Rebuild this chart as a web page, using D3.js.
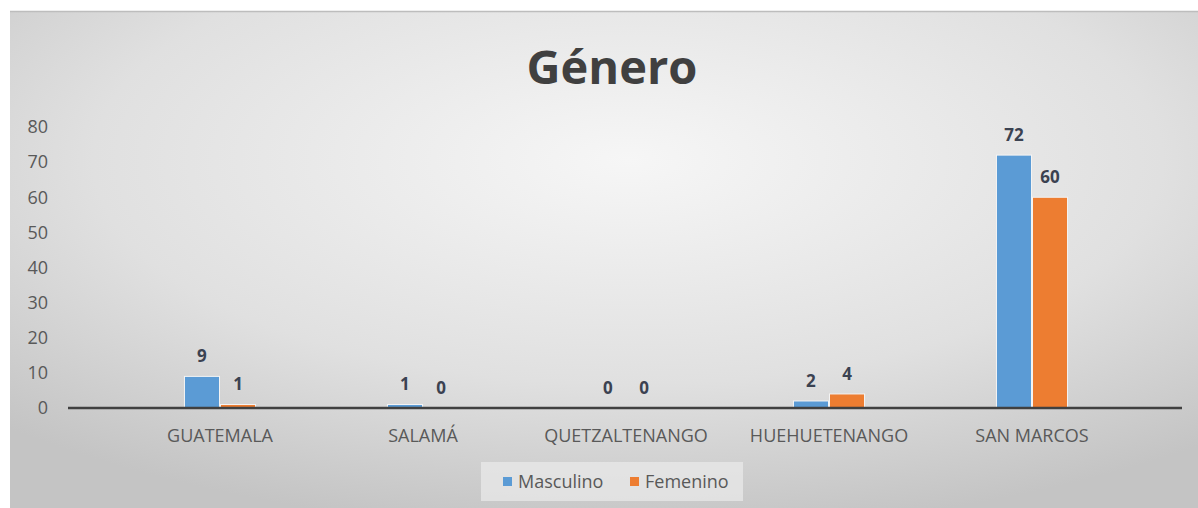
<!DOCTYPE html>
<html>
<head>
<meta charset="utf-8">
<script src="https://cdn.jsdelivr.net/npm/d3@7"></script>
<style>
  html, body { margin: 0; padding: 0; background: #fff; }
  svg { display: block; font-family: "Open Sans", "Noto Sans", sans-serif; }
</style>
</head>
<body>
<div id="chart"></div>
<script>
const categories = ["GUATEMALA", "SALAMÁ", "QUETZALTENANGO", "HUEHUETENANGO", "SAN MARCOS"]
const seriesNames = ["Masculino", "Femenino"]
const masculino = [9, 1, 0, 2, 72]
const femenino = [1, 0, 0, 4, 60]
const yTicks = [0, 10, 20, 30, 40, 50, 60, 70, 80]
const colors = ["#5b9bd5", "#ed7d31"]

const totalWidth = 1198, totalHeight = 508
const svg = d3.select("div#chart").append("svg").attr("width", totalWidth).attr("height", totalHeight)

// fondo con degradado radial
const defs = svg.append("defs")
const grad = defs.append("radialGradient").attr("id", "bg")
  .attr("cx", "52%").attr("cy", "30%").attr("r", "75%")
grad.append("stop").attr("offset", "0%").attr("stop-color", "#f6f6f6")
grad.append("stop").attr("offset", "60%").attr("stop-color", "#e0e0e0")
grad.append("stop").attr("offset", "100%").attr("stop-color", "#c4c4c4")

svg.append("rect").attr("x", 10).attr("y", 11).attr("width", totalWidth - 10).attr("height", totalHeight - 11)
  .attr("fill", "url(#bg)")
svg.append("line").attr("x1", 10).attr("x2", totalWidth).attr("y1", 11.5).attr("y2", 11.5)
  .attr("stroke", "#bdbdbd").attr("stroke-width", 1.5)

svg.append("text").attr("x", 612).attr("y", 84).attr("text-anchor", "middle")
  .attr("font-size", 47).attr("font-weight", "bold").attr("fill", "#404040").text("Género")

// escalas
const x0 = d3.scaleBand().domain(categories).range([118.5, 1133.5]).paddingInner(0.645).paddingOuter(0.3225)
const x1 = d3.scaleBand().domain(seriesNames).range([0, x0.bandwidth()])
const y = d3.scaleLinear().domain([0, 80]).range([408, 127])

// eje y (solo etiquetas)
const yAxis = d3.axisLeft(y).tickValues(yTicks).tickSize(0).tickPadding(0)
const yAxisGroup = svg.append("g").attr("transform", "translate(48,0)").call(yAxis)
yAxisGroup.select(".domain").remove()
yAxisGroup.selectAll("text").attr("font-size", 18).attr("fill", "#595959")
  .attr("font-family", "\"Open Sans\", sans-serif")

// barras
const data = categories.map((c, i) => ({ cat: c, values: [masculino[i], femenino[i]] }))
const groups = svg.append("g").selectAll("g").data(data).join("g")
  .attr("transform", d => `translate(${x0(d.cat)},0)`)

groups.selectAll("rect").data(d => d.values.map((v, j) => ({ key: seriesNames[j], v, j })))
  .join("rect")
  .attr("x", d => x1(d.key) + 0.5)
  .attr("width", x1.bandwidth() - 1)
  .attr("y", d => y(d.v))
  .attr("height", d => y(0) - y(d.v))
  .attr("fill", d => colors[d.j])
  .attr("stroke", d => d.v > 0 ? "#f4f4f4" : "none")
  .attr("stroke-width", 1)

groups.selectAll("text").data(d => d.values.map((v, j) => ({ key: seriesNames[j], v, j })))
  .join("text")
  .attr("x", d => x1(d.key) + x1.bandwidth() / 2)
  .attr("y", d => y(d.v) - 14)
  .attr("text-anchor", "middle")
  .attr("font-size", 17).attr("font-weight", "bold").attr("fill", "#3b4251")
  .text(d => d.v)

// eje x
const xAxis = d3.axisBottom(x0).tickSize(0).tickPadding(21)
const xAxisGroup = svg.append("g").attr("transform", `translate(0,${y(0)})`).call(xAxis)
xAxisGroup.select(".domain").remove()
xAxisGroup.selectAll("text").attr("font-size", 18).attr("fill", "#595959")
  .attr("font-family", "\"Open Sans\", sans-serif")
svg.append("line").attr("x1", 68).attr("x2", 1182).attr("y1", y(0)).attr("y2", y(0))
  .attr("stroke", "#404040").attr("stroke-width", 2.5)

// leyenda
const legend = svg.append("g")
legend.append("rect").attr("x", 481).attr("y", 462).attr("width", 262).attr("height", 39)
  .attr("fill", "#ebebeb").attr("opacity", 0.7)
const legendX = [503, 630]
seriesNames.forEach((s, i) => {
  legend.append("rect").attr("x", legendX[i]).attr("y", 477).attr("width", 9).attr("height", 9).attr("fill", colors[i])
  legend.append("text").attr("x", legendX[i] + 15).attr("y", 488).attr("font-size", 18)
    .attr("fill", "#595959").text(s)
})
</script>
</body>
</html>
